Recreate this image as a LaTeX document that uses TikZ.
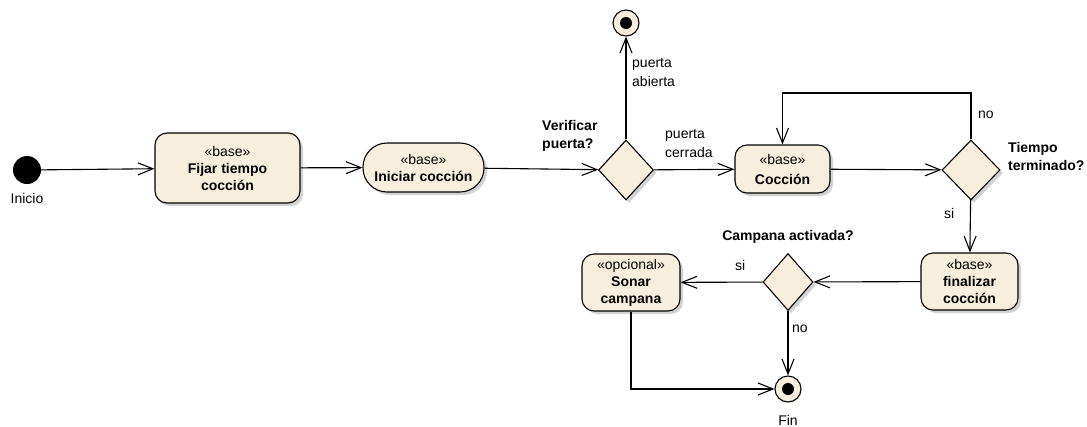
\documentclass[tikz,border=0pt]{standalone}
\usepackage{fontspec}
\setmainfont{Liberation Sans}
\usetikzlibrary{arrows.meta,shapes.geometric,shadows}
\definecolor{actfill}{HTML}{F8EEDD}
\tikzset{
  act/.style={draw, line width=1.1pt, fill=actfill, rounded corners=12pt,
    align=center, inner sep=2pt,
    drop shadow={shadow xshift=3pt, shadow yshift=-3pt, fill=black!22, opacity=0.8},
    font=\fontsize{14}{17}\selectfont},
  decision/.style={draw, diamond, line width=1.1pt, fill=actfill, inner sep=0pt,
    drop shadow={shadow xshift=3pt, shadow yshift=-3pt, fill=black!22, opacity=0.8}},
  startnode/.style={circle, fill=black, minimum size=28pt, inner sep=0pt},
  endnode/.style={circle, draw, line width=1.1pt, fill=actfill, minimum size=26pt, inner sep=0pt,
    path picture={\fill[black] (path picture bounding box.center) circle (6pt);}},
  flow/.style={line width=1.1pt, -{Straight Barb[length=15pt,width=12pt,line width=1.1pt]}},
  lbl/.style={font=\fontsize{14}{19}\selectfont, align=left, inner sep=0pt},
  blbl/.style={font=\fontsize{14}{18}\selectfont\bfseries, align=left, inner sep=0pt},
}
\begin{document}
\begin{tikzpicture}[x=1pt, y=-1pt]
  \useasboundingbox (0,0) rectangle (1087,426);

  % start and end points
  \node[startnode] (ini) at (27,170) {};
  \node[lbl] (inilbl) at (27,198) {Inicio};
  \node[endnode] (endtop) at (626,23) {};
  \node[endnode] (fin) at (788,389) {};
  \node[lbl] (finlbl) at (788,420) {Fin};

  % actions
  \node[act, minimum width=145pt, minimum height=70pt] (fijar) at (227.5,168)
    {«base»\\\textbf{Fijar tiempo}\\\textbf{cocción}};
  \node[act, rounded corners=24pt, minimum width=121pt, minimum height=49pt] (iniciar) at (423.5,167.5)
    {«base»\\\textbf{Iniciar cocción}};
  \node[act, minimum width=95pt, minimum height=48pt] (coc) at (782.5,169)
    {«base»\\[3pt]\textbf{Cocción}};
  \node[act, minimum width=97pt, minimum height=57pt] (finalizar) at (969.5,281.5)
    {«base»\\\textbf{finalizar}\\\textbf{cocción}};
  \node[act, minimum width=98pt, minimum height=57pt] (sonar) at (631,282.5)
    {«opcional»\\\textbf{Sonar}\\\textbf{campana}};

  % decisions
  \node[decision, minimum width=55pt, minimum height=60pt] (d1) at (626,170) {};
  \node[decision, minimum width=58pt, minimum height=60pt] (d2) at (971,170) {};
  \node[decision, minimum width=50pt, minimum height=57pt] (d3) at (788,282) {};

  % decision captions
  \node[blbl, anchor=west] (d1cap) at (542,136) {Verificar\\puerta?};
  \node[blbl, anchor=west] (d2cap) at (1008,156) {Tiempo\\terminado?};
  \node[blbl] (d3cap) at (788,237) {Campana activada?};

  % flows
  \draw[flow] (ini) -- (fijar);
  \draw[flow] (fijar) -- (iniciar);
  \draw[flow] (iniciar) -- (d1);
  \draw[flow] (d1) -- (endtop);
  \draw[flow] (d1) -- (coc);
  \draw[flow] (coc) -- (d2);
  \coordinate (loop) at (876,93);
  \draw[flow] (d2.north) |- (loop) -| (coc.north);
  \draw[flow] (d2) -- (finalizar);
  \draw[flow] (finalizar) -- (d3);
  \draw[flow] (d3) -- (sonar);
  \draw[flow] (d3) -- (fin);
  \draw[flow] (sonar.south) |- (fin.west);

  % guard labels
  \node[lbl, anchor=west] (gabierta) at (632,73) {puerta\\abierta};
  \node[lbl, anchor=west] (gcerrada) at (665,144) {puerta\\cerrada};
  \node[lbl, anchor=west] (gno1) at (978,115) {no};
  \node[lbl, anchor=west] (gsi1) at (944,213) {si};
  \node[lbl, anchor=west] (gsi2) at (735,265) {si};
  \node[lbl, anchor=west] (gno2) at (792,329) {no};
\end{tikzpicture}
\end{document}
